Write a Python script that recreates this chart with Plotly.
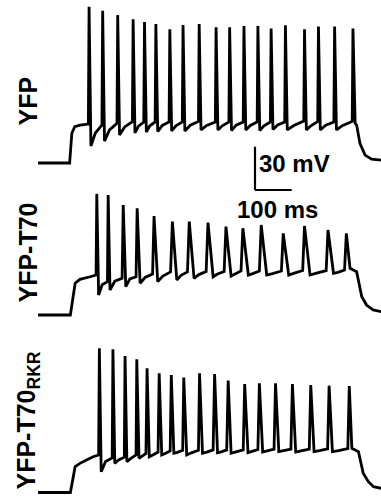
import plotly.graph_objects as go

# ---------------- DATA (ms, mV) ----------------
labels = ["YFP", "YFP-T70", "YFP-T70<sub>RKR</sub>"]
scale_bar_ms = 100
scale_bar_mv = 30
rest_mv = -70

# YFP
yfp_on_t = [-87, -1, 5, 13, 27, 46]
yfp_on_v = [-70, -70, -49.4, -44.8, -43.7, -43.0]
yfp_spike_t = [52, 89, 130, 172, 203, 234, 272, 308, 352, 398, 435, 474, 512, 548, 587, 639, 677, 721, 771]
yfp_peak = [38.3, 35.5, 32.6, 29.6, 27.7, 26.3, 22.7, 25.6, 26.3, 24.0, 24.0, 24.9, 24.9, 23.1, 25.4, 22.7, 24.5, 24.5, 23.1]
yfp_trough = [-58.2, -54.8, -50.6, -49.2, -48.5, -48.2, -47.8, -47.8, -47.1, -47.1, -47.5, -47.1, -47.5, -46.8, -47.1, -47.1, -47.1, -47.1]
yfp_mid = [-49.2, -47.1, -45.0, -44.4, -44.2, -44.0, -44.2, -43.8, -44.0, -44.2, -43.8, -44.0, -44.2, -43.7, -44.0, -44.2, -43.8, -44.0]
yfp_thr = [-43.0, -43.7, -42.5, -41.4, -41.6, -41.6, -41.6, -41.6, -41.2, -41.6, -41.6, -41.6, -41.6, -41.6, -41.6, -40.9, -41.2, -41.6, -41.2]
yfp_off_t = [777, 781, 790, 804, 822, 848]
yfp_off_v = [-42.5, -43.7, -56.3, -64.5, -67.4, -68.0]

# YFP-T70
t70_on_t = [-87, 1, 14, 27, 55, 66]
t70_on_v = [-70, -70, -48.0, -45.3, -43.5, -42.6]
t70_spike_t = [73, 104, 145, 183, 229, 279, 325, 376, 425, 471, 521, 581, 639, 703, 753]
t70_peak = [13.9, 13.2, 6.2, 3.9, -1.4, -5.3, -5.3, -6.0, -8.8, -9.9, -7.6, -13.4, -8.3, -11.1, -13.4]
t70_trough = [-56.1, -52.7, -50.4, -48.0, -46.9, -45.7, -44.6, -43.5, -43.0, -42.3, -42.3, -42.3, -42.3, -41.1]
t70_mid = [-49.0, -46.5, -45.0, -44.0, -43.0, -42.5, -42.0, -41.6, -41.6, -41.3, -41.3, -41.0, -41.0, -40.5]
t70_thr = [-42.3, -46.9, -44.6, -43.5, -41.6, -40.2, -40.2, -39.9, -39.9, -39.5, -39.5, -39.5, -39.2, -39.2, -38.8]
t70_off_t = [763, 772, 781, 795, 808, 826, 848]
t70_off_v = [-37.6, -38.8, -40.0, -57.3, -63.1, -66.5, -67.7]

# YFP-T70RKR
rkr_on_t = [-87, 1, 14, 27, 45, 63]
rkr_on_v = [-70, -70, -52.1, -49.8, -47.5, -45.2]
rkr_spike_t = [80, 117, 150, 182, 210, 243, 276, 310, 353, 394, 431, 476, 516, 560, 606, 656, 706, 761]
rkr_peak = [29.9, 29.2, 24.6, 22.3, 16.1, 12.6, 11.4, 9.6, 12.6, 12.1, 7.5, 5.2, 5.7, 5.7, 5.2, 4.5, 4.0, 3.8]
rkr_trough = [-55.6, -49.8, -48.7, -46.3, -45.2, -44.0, -42.8, -44.0, -42.8, -42.4, -42.8, -42.4, -42.0, -41.7, -42.0, -41.7, -41.7]
rkr_mid = [-48.5, -47.5, -46.5, -45.0, -44.0, -43.0, -42.2, -42.5, -42.0, -41.8, -41.8, -41.5, -41.2, -41.0, -41.2, -41.0, -41.0]
rkr_thr = [-44.0, -46.0, -45.5, -44.0, -43.0, -42.0, -41.2, -40.8, -40.8, -40.5, -40.5, -40.5, -40.2, -40.0, -40.0, -40.0, -39.8, -39.6]
rkr_off_t = [768, 777, 786, 799, 813, 827, 848]
rkr_off_v = [-39.4, -40.5, -41.7, -56.7, -62.5, -66.0, -67.1]

# spike rise / fall durations (ms)
yfp_rise = [2] * len(yfp_spike_t)
yfp_fall = [5] * len(yfp_spike_t)
t70_rise = [2, 2, 3, 3, 4, 5, 5, 5, 5, 5, 5, 5, 5, 5, 5]
t70_fall = [5, 5, 7, 8, 10, 12, 13, 14, 14, 15, 15, 15, 15, 15, 15]
rkr_rise = [2, 2, 2, 2, 3, 3, 3, 3, 3, 4, 4, 4, 4, 4, 4, 4, 4, 4]
rkr_fall = [5, 5, 5, 6, 6, 7, 7, 8, 8, 8, 8, 9, 9, 9, 9, 9, 9, 9]


def build(on_t, on_v, sp_t, pk, tr, md, th, rise, fall, off_t, off_v):
    xs, ys = list(on_t), list(on_v)
    n = len(sp_t)
    for i in range(n):
        xs.append(sp_t[i] - rise[i]); ys.append(th[i])
        xs.append(sp_t[i]); ys.append(pk[i])
        if i < n - 1:
            ta = sp_t[i] + fall[i]
            tb = sp_t[i + 1] - rise[i + 1]
            xs.append(ta); ys.append(tr[i])
            xs.append(ta + 0.4 * (tb - ta)); ys.append(md[i])
    xs += off_t; ys += off_v
    return xs, ys


traces = [
    build(yfp_on_t, yfp_on_v, yfp_spike_t, yfp_peak, yfp_trough, yfp_mid, yfp_thr, yfp_rise, yfp_fall, yfp_off_t, yfp_off_v),
    build(t70_on_t, t70_on_v, t70_spike_t, t70_peak, t70_trough, t70_mid, t70_thr, t70_rise, t70_fall, t70_off_t, t70_off_v),
    build(rkr_on_t, rkr_on_v, rkr_spike_t, rkr_peak, rkr_trough, rkr_mid, rkr_thr, rkr_rise, rkr_fall, rkr_off_t, rkr_off_v),
]

# ---------------- LAYOUT ----------------
W, H = 381, 496
ms_per_px = 100 / 36.7
mv_per_px = 30 / 43.3
x_zero_px = 70
baseline_px = [163, 315, 492.5]
label_y_px = [101, 253, 421]

fig = go.Figure()
axnames = ["y", "y2", "y3"]
for k, (xs, ys) in enumerate(traces):
    fig.add_trace(go.Scatter(x=xs, y=ys, mode="lines", yaxis=axnames[k],
                             line=dict(color="black", width=2.8), showlegend=False,
                             hoverinfo="skip"))

xr = [-x_zero_px * ms_per_px, (W - x_zero_px) * ms_per_px]
layout_axes = {}
for k, b in enumerate(baseline_px):
    rng = [rest_mv - (H - b) * mv_per_px, rest_mv + b * mv_per_px]
    ax = dict(range=rng, visible=False, fixedrange=True)
    if k > 0:
        ax["overlaying"] = "y"
    layout_axes["yaxis" if k == 0 else f"yaxis{k+1}"] = ax

fig.update_layout(
    width=W, height=H, margin=dict(l=0, r=0, t=0, b=0, pad=0),
    paper_bgcolor="white", plot_bgcolor="white",
    xaxis=dict(range=xr, visible=False, fixedrange=True),
    **layout_axes,
)

# scale bar (in trace-1 coordinates)
sb_t0 = (255 - x_zero_px) * ms_per_px
sb_v0 = rest_mv + (baseline_px[0] - 190) * mv_per_px
fig.add_shape(type="line", xref="x", yref="y", x0=sb_t0, x1=sb_t0, y0=sb_v0, y1=sb_v0 + scale_bar_mv,
              line=dict(color="black", width=2.2))
fig.add_shape(type="line", xref="x", yref="y", x0=sb_t0, x1=sb_t0 + scale_bar_ms, y0=sb_v0, y1=sb_v0,
              line=dict(color="black", width=2.2))

font = dict(family="Liberation Sans, Arial, sans-serif", size=24, color="black")
fig.add_annotation(text=f"<b>{scale_bar_mv} mV</b>", xref="paper", yref="paper",
                   x=257 / W, y=1 - 163 / H, xanchor="left", yanchor="middle",
                   showarrow=False, font=font)
fig.add_annotation(text=f"<b>{scale_bar_ms} ms</b>", xref="paper", yref="paper",
                   x=235 / W, y=1 - 210 / H, xanchor="left", yanchor="middle",
                   showarrow=False, font=font)

lab_font = dict(family="Liberation Sans, Arial, sans-serif", size=25, color="black")
for lab, ypx in zip(labels, label_y_px):
    fig.add_annotation(text=f"<b>{lab}</b>", xref="paper", yref="paper",
                       x=27.5 / W, y=1 - ypx / H, xanchor="center", yanchor="middle",
                       textangle=-90, showarrow=False, font=lab_font)

fig.write_html("out.html", config={"responsive": False, "displayModeBar": False},
               post_script="document.body.style.margin='0';document.body.style.padding='0';")
